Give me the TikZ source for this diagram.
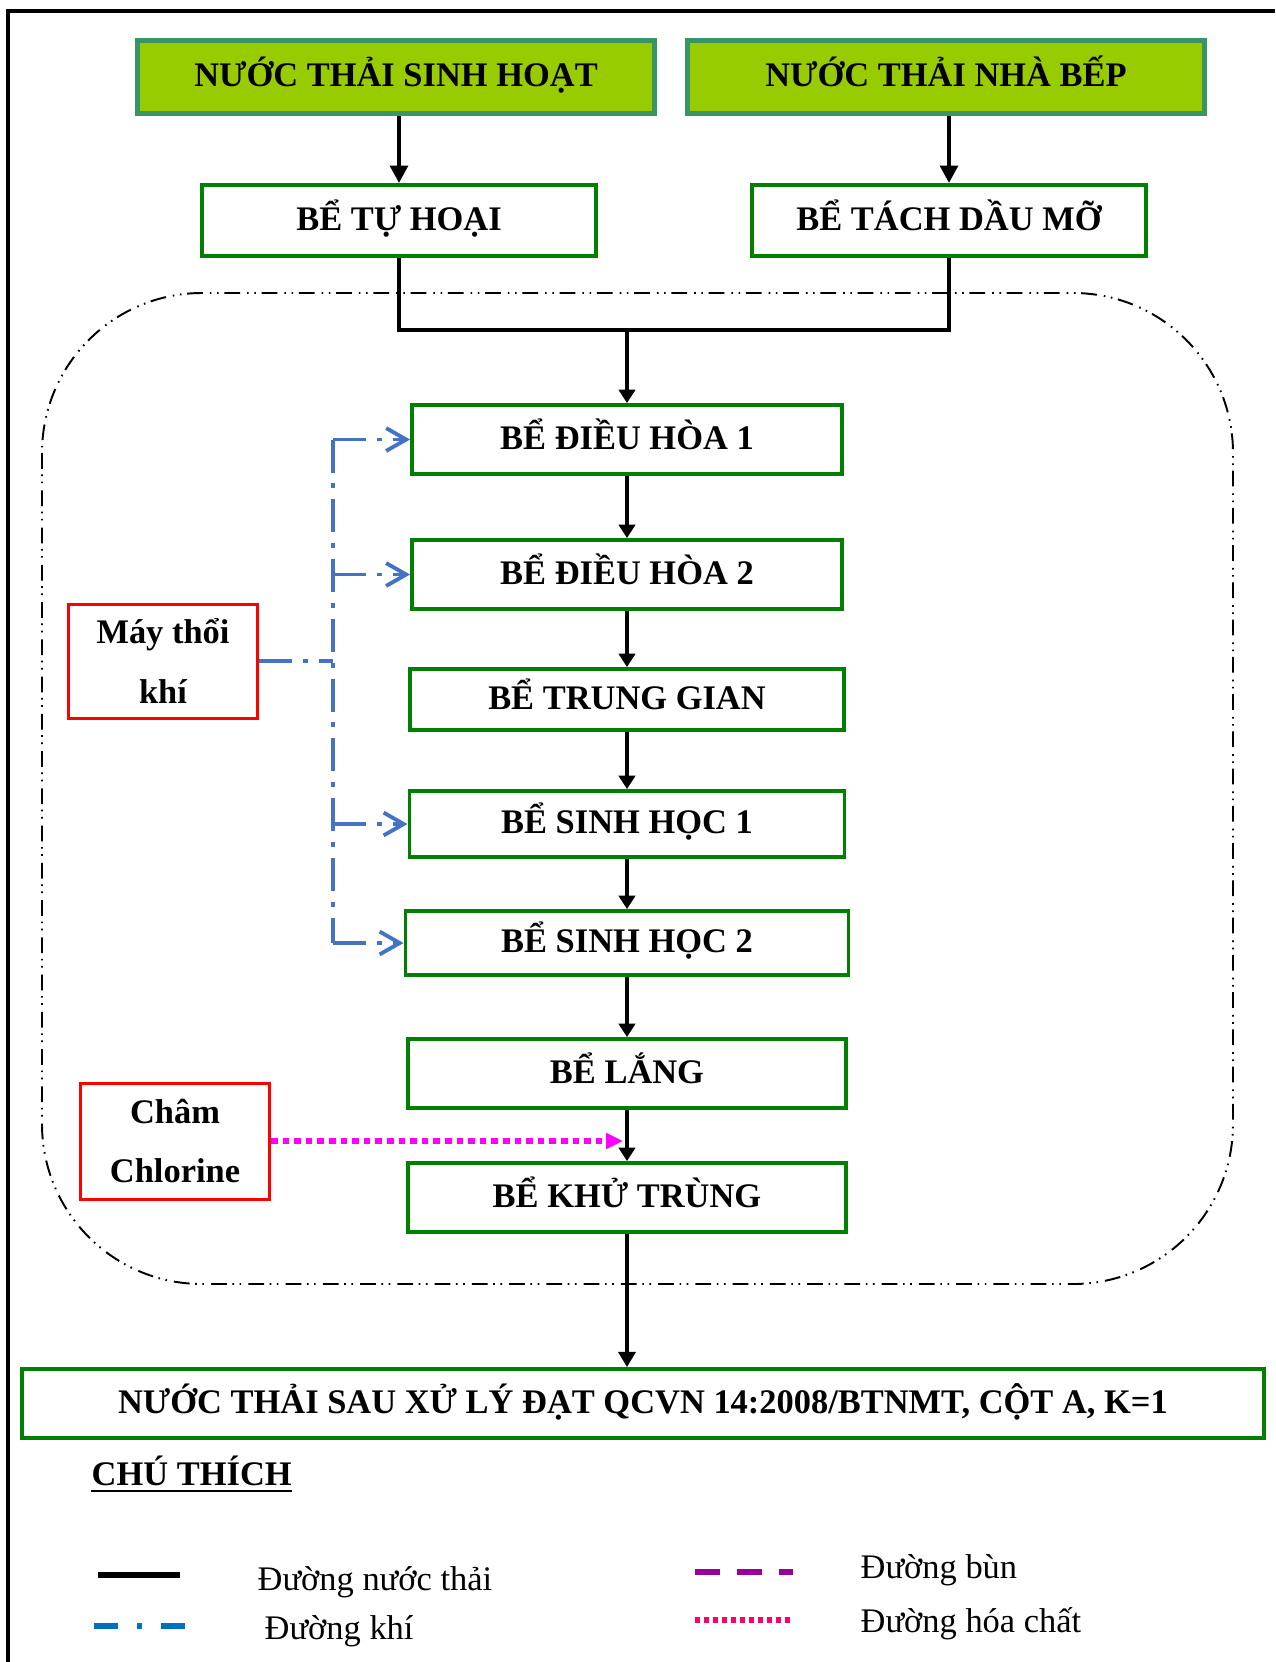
\documentclass[tikz,border=0pt]{standalone}
\usepackage{fontspec}
\setmainfont{Liberation Serif}
\usetikzlibrary{arrows.meta}

\definecolor{titlefill}{RGB}{153,204,0}
\definecolor{titleedge}{RGB}{55,150,100}
\definecolor{tankgreen}{RGB}{0,128,0}
\definecolor{airblue}{RGB}{68,114,196}
\definecolor{legblue}{RGB}{0,112,192}
\definecolor{mudpurple}{RGB}{153,0,153}
\definecolor{chempink}{RGB}{255,0,102}
\definecolor{chemline}{RGB}{255,0,255}

\begin{document}
\begin{tikzpicture}[
    boxfont/.style={font=\fontsize{9.8}{17}\selectfont\bfseries},
    titlebox/.style={boxfont, draw=titleedge, fill=titlefill, line width=1.6pt,
        minimum width=5.17cm, minimum height=0.73cm, inner sep=0pt,
        text height=0.66em, text depth=0.1em},
    tank/.style={boxfont, draw=tankgreen, line width=1.1pt, inner sep=0pt,
        minimum height=0.69cm, text height=0.66em, text depth=0.1em},
    feedbox/.style={boxfont, draw=red, line width=0.85pt, align=center,
        minimum width=1.89cm, minimum height=1.14cm, inner sep=0pt},
    legtext/.style={font=\fontsize{9.8}{12}\selectfont, inner sep=0pt, anchor=base west},
    flow/.style={line width=1pt, -{Triangle[length=3.8pt,width=4.6pt]}},
    airline/.style={draw=airblue, line width=1.1pt,
        dash pattern=on 9.4pt off 3.1pt on 1.4pt off 3.1pt}
  ]
    \useasboundingbox (0,0) rectangle (12.75,-16.62);

    % 外枠
    \draw[line width=1.1pt] (0.08,-16.62) -- (0.08,-0.11) -- (12.75,-0.11);

    % 処理区域(一点鎖線)
    \draw[line width=0.55pt, rounded corners=1.6cm,
        dash pattern=on 4.5pt off 1.6pt on 0.45pt off 1.6pt on 0.45pt off 2pt]
        (0.42,-2.93) rectangle (12.33,-12.84);

    % 原水
    \node[titlebox] (sinhhoat) at (3.96,-0.77) {NƯỚC THẢI SINH HOẠT};
    \node[titlebox] (nhabep) at (9.46,-0.77) {NƯỚC THẢI NHÀ BẾP};

    % 前処理
    \node[tank, minimum width=3.94cm, minimum height=0.71cm] (tuhoai) at (3.99,-2.205) {BỂ TỰ HOẠI};
    \node[tank, minimum width=3.94cm, minimum height=0.71cm] (tachdau) at (9.49,-2.205) {BỂ TÁCH DẦU MỠ};

    % 処理槽
    \node[tank, minimum width=4.30cm] (dh1) at (6.27,-4.395) {BỂ ĐIỀU HÒA 1};
    \node[tank, minimum width=4.30cm] (dh2) at (6.27,-5.745) {BỂ ĐIỀU HÒA 2};
    \node[tank, minimum width=4.34cm, minimum height=0.61cm] (trunggian) at (6.27,-6.995) {BỂ TRUNG GIAN};
    \node[tank, minimum width=4.35cm, minimum height=0.66cm] (sh1) at (6.27,-8.24) {BỂ SINH HỌC 1};
    \node[tank, minimum width=4.43cm, minimum height=0.64cm] (sh2) at (6.27,-9.43) {BỂ SINH HỌC 2};
    \node[tank, minimum width=4.38cm] (lang) at (6.27,-10.735) {BỂ LẮNG};
    \node[tank, minimum width=4.38cm] (khutrung) at (6.27,-11.975) {BỂ KHỬ TRÙNG};

    % 放流
    \node[tank, minimum width=12.42cm] (xaura) at (6.43,-14.035)
        {NƯỚC THẢI SAU XỬ LÝ ĐẠT QCVN 14:2008/BTNMT, CỘT A, K=1};

    % 送風機と薬品
    \node[feedbox] (maythoi) at (1.63,-6.61) {Máy thổi\\khí};
    \node[feedbox, minimum height=1.16cm] (chlorine) at (1.75,-11.41) {Châm\\Chlorine};

    % 矢印(排水)
    \draw[line width=1.3pt, -{Triangle[length=5pt,width=5pt]}]
        (tuhoai.north |- sinhhoat.south) -- (tuhoai.north);
    \draw[line width=1.3pt, -{Triangle[length=5pt,width=5pt]}]
        (tachdau.north |- nhabep.south) -- (tachdau.north);
    \coordinate (hop) at (6.27,-3.30);
    \draw[line width=1pt] (tuhoai.south) |- (hop) -| (tachdau.south);
    \draw[flow] (hop) -- (dh1.north);
    \draw[flow] (dh1) -- (dh2);
    \draw[flow] (dh2) -- (trunggian);
    \draw[flow] (trunggian) -- (sh1);
    \draw[flow] (sh1) -- (sh2);
    \draw[flow] (sh2) -- (lang);
    \draw[flow] (lang) -- (khutrung);
    \draw[line width=1.4pt, -{Triangle[length=4.3pt,width=4.8pt]}]
        (khutrung.south) -- (khutrung.south |- xaura.north);

    % 矢印(空気)
    \coordinate (ong) at (3.33,-6.61);
    \draw[airline] (maythoi.east) -- (ong);
    \draw[airline] (dh1.west -| ong) -- (sh2.west -| ong);
    \foreach \be in {dh1,dh2,sh1,sh2}
      \draw[airline, -{Straight Barb[length=5.7pt,width=6.5pt]}] (\be.west -| ong) -- (\be.west);

    % 矢印(薬品)
    \coordinate (chl) at (6.23,-11.41);
    \draw[draw=chemline, line width=1.7pt, dash pattern=on 1.9pt off 1.4pt,
        -{Triangle[length=4.8pt,width=4.3pt,fill=chemline]}] (chlorine.east) -- (chl);

    % 凡例
    \node[legtext, font=\fontsize{9.8}{12}\selectfont\bfseries] (chuthich) at (0.91,-14.85) {CHÚ THÍCH};
    \draw[line width=0.8pt] ([yshift=-0.06cm]chuthich.base west) -- ([yshift=-0.06cm]chuthich.base east);

    \draw[line width=1.7pt] (0.98,-15.75) -- (1.80,-15.75);
    \node[legtext] (lnuoc) at (2.57,-15.90) {Đường nước thải};

    \draw[draw=legblue, line width=1.7pt, dash pattern=on 6.8pt off 5.4pt on 1.4pt off 5.4pt]
        (0.94,-16.26) -- (1.85,-16.26);
    \node[legtext] (lkhi) at (2.64,-16.39) {Đường khí};

    \draw[draw=mudpurple, line width=1.7pt, dash pattern=on 7.1pt off 4.8pt]
        (6.95,-15.72) -- (7.93,-15.72);
    \node[legtext] (lbun) at (8.60,-15.78) {Đường bùn};

    \draw[draw=chempink, line width=1.7pt, dash pattern=on 1.4pt off 1.15pt]
        (6.95,-16.20) -- (7.93,-16.20);
    \node[legtext] (lhoachat) at (8.60,-16.32) {Đường hóa chất};
  \end{tikzpicture}
\end{document}
